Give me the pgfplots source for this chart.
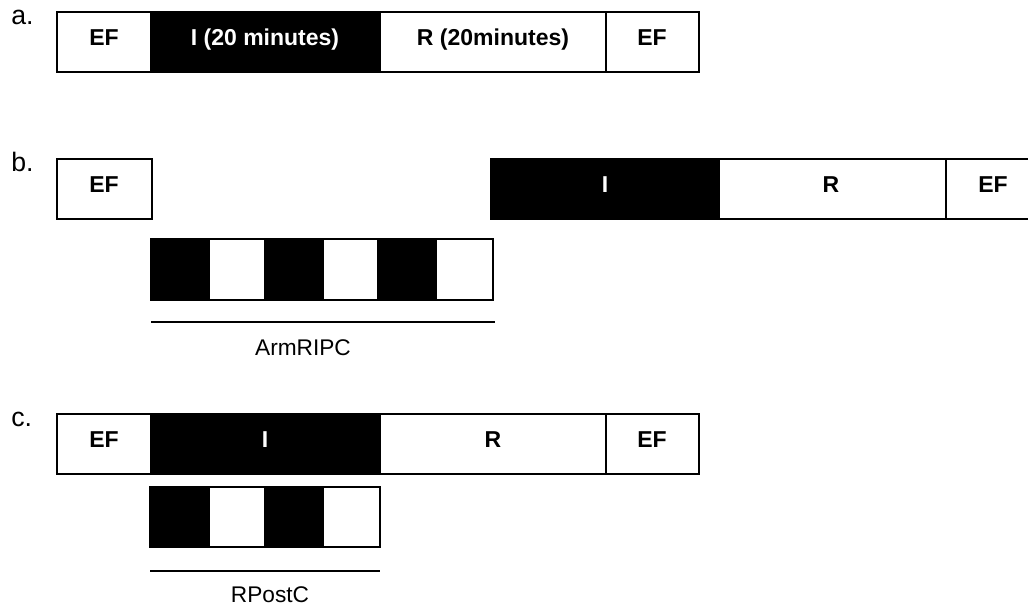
\documentclass[border=0pt]{standalone}
\usepackage{pgfplots}
\pgfplotsset{compat=1.18}
\usepackage{fontspec}
\setmainfont{Liberation Sans}
\newcommand{\rect}[5]{\addplot[draw=black,fill=#5,line width=1.4pt,mark=none] coordinates {(#1,#2) (#3,#2) (#3,#4) (#1,#4)} -- cycle;}
\newcommand{\blk}[5]{\addplot[draw=black,fill=#5,line width=1.1pt,mark=none] coordinates {(#1,#2) (#3,#2) (#3,#4) (#1,#4)} -- cycle;}
\begin{document}
\begin{tikzpicture}
\begin{axis}[
  scale only axis, width=771pt, height=453.75pt,
  xmin=0, xmax=1028, ymin=0, ymax=605, y dir=reverse,
  hide axis, clip=true,
]
\coordinate (SW) at (rel axis cs:0,0);
\coordinate (NE) at (rel axis cs:1,1);
% row a
\rect{57}{12}{151}{72}{white}
\rect{151}{12}{380}{72}{black}
\rect{380}{12}{606}{72}{white}
\rect{606}{12}{699}{72}{white}
% row b
\rect{57}{159}{152}{219}{white}
\rect{491}{159}{719}{219}{black}
\rect{719}{159}{946}{219}{white}
\rect{946}{159}{1045}{219}{white}
\blk{151}{239}{209}{300}{black}
\blk{209}{239}{265}{300}{white}
\blk{265}{239}{323}{300}{black}
\blk{323}{239}{378}{300}{white}
\blk{378}{239}{436}{300}{black}
\blk{436}{239}{493}{300}{white}
\addplot[line width=1.4pt,mark=none] coordinates {(151,322) (495,322)};
% row c
\rect{57}{414}{151}{474}{white}
\rect{151}{414}{380}{474}{black}
\rect{380}{414}{606}{474}{white}
\rect{606}{414}{699}{474}{white}
\blk{150}{487}{209}{547}{black}
\blk{209}{487}{265}{547}{white}
\blk{265}{487}{323}{547}{black}
\blk{323}{487}{380}{547}{white}
\addplot[line width=1.4pt,mark=none] coordinates {(150,571) (380,571)};
% texts
\tikzset{boxlab/.style={anchor=base, inner sep=0pt, font=\bfseries\fontsize{17.25}{17.25}\selectfont},
         panlab/.style={anchor=base west, inner sep=0pt, font=\fontsize{20}{20}\selectfont},
         undlab/.style={anchor=base, inner sep=0pt, font=\fontsize{17}{17}\selectfont}}
\node[panlab] at (axis cs:11,25) {a.};
\node[panlab] at (axis cs:11,172) {b.};
\node[panlab] at (axis cs:11,427) {c.};
\node[boxlab] at (axis cs:104,46) {EF};
\node[boxlab,text=white] at (axis cs:265,46) {I (20 minutes)};
\node[boxlab] at (axis cs:493,46) {R (20minutes)};
\node[boxlab] at (axis cs:652,46) {EF};
\node[boxlab] at (axis cs:104,193) {EF};
\node[boxlab,text=white] at (axis cs:605,193) {I};
\node[boxlab] at (axis cs:831,193) {R};
\node[boxlab] at (axis cs:993,193) {EF};
\node[undlab] at (axis cs:303,356) {ArmRIPC};
\node[boxlab] at (axis cs:104,448) {EF};
\node[boxlab,text=white] at (axis cs:265,448) {I};
\node[boxlab] at (axis cs:493,448) {R};
\node[boxlab] at (axis cs:652,448) {EF};
\node[undlab] at (axis cs:270,602) {RPostC};
\end{axis}
\pgfresetboundingbox
\path (SW) rectangle (NE);
\end{tikzpicture}
\end{document}
